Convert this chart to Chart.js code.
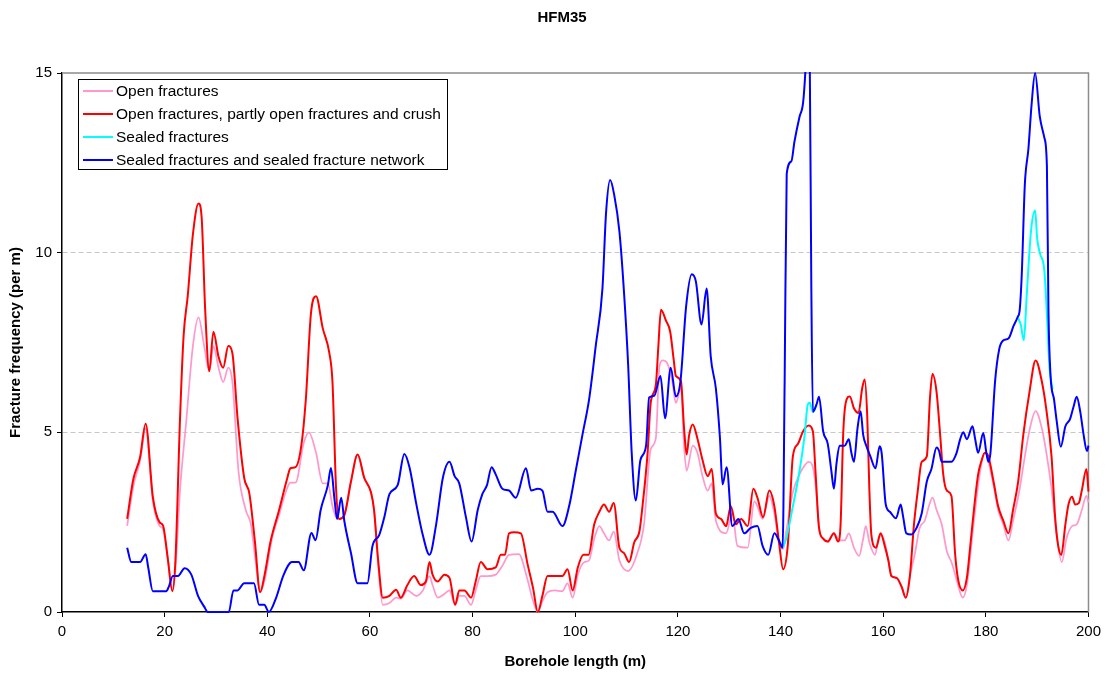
<!DOCTYPE html>
<html>
<head>
<meta charset="utf-8">
<title>HFM35</title>
<script src="https://cdn.jsdelivr.net/npm/chart.js@4.4.1/dist/chart.umd.min.js"></script>
<style>
  html, body { margin: 0; padding: 0; background: #fff; }
  #wrap { width: 1107px; height: 675px; }
</style>
</head>
<body>
<div id="wrap"><canvas id="fracChart" width="1107" height="675"></canvas></div>
<script>
// Values (borehole length in m, frequency per m)
const openX = [12.7, 13.9, 15.2, 16.3, 17.7, 19.0, 19.7, 20.6, 21.5, 22.1, 23.0, 24.2, 25.5, 26.6, 27.7, 28.7, 29.5, 30.5, 31.4, 32.4, 33.2, 34.4, 35.8, 36.8, 37.7, 38.6, 39.5, 41.0, 42.3, 43.5, 44.5, 45.5, 47.1, 48.1, 49.5, 50.8, 51.8, 52.7, 53.4, 54.0, 55.0, 56.3, 57.6, 58.9, 60.2, 60.8, 61.6, 62.5, 63.8, 65.1, 66.0, 67.3, 69.0, 70.3, 71.6, 72.2, 73.2, 74.5, 75.5, 76.6, 77.4, 78.4, 79.7, 80.6, 81.6, 82.9, 84.5, 85.8, 87.1, 89.0, 90.7, 91.7, 92.7, 93.6, 94.6, 96.0, 97.5, 98.5, 99.5, 100.5, 101.8, 102.7, 103.7, 104.7, 105.6, 106.6, 107.5, 108.6, 110.3, 112.1, 113.4, 114.7, 115.7, 116.4, 117.0, 118.0, 118.9, 119.6, 120.6, 121.2, 121.7, 122.9, 123.8, 124.8, 125.8, 126.6, 127.4, 129.4, 130.6, 131.6, 133.6, 134.9, 135.5, 136.5, 137.8, 138.8, 139.7, 140.5, 141.1, 142.4, 143.7, 144.7, 145.5, 146.3, 146.9, 147.5, 148.3, 149.2, 150.4, 151.5, 152.5, 153.3, 154.3, 155.3, 156.1, 156.6, 157.3, 158.4, 159.3, 160.2, 161.0, 161.6, 162.6, 163.6, 164.4, 165.2, 166.2, 167.1, 168.1, 169.0, 169.6, 170.4, 171.4, 172.4, 173.3, 174.3, 175.5, 176.3, 177.6, 178.9, 179.8, 181.5, 182.4, 183.4, 184.4, 185.3, 186.6, 187.6, 188.6, 189.7, 190.9, 191.8, 192.8, 193.8, 194.8, 195.7, 196.8, 197.7, 198.7, 199.6, 200.0];
const openY = [2.4, 3.5, 4.2, 5.1, 3.1, 2.4, 2.3, 1.5, 0.6, 1.2, 3.4, 5.3, 7.4, 8.2, 7.4, 6.7, 7.4, 6.8, 6.4, 6.8, 6.4, 3.9, 2.84, 2.44, 1.44, 0.55, 0.9, 2.1, 2.7, 3.3, 3.6, 3.6, 4.7, 5.0, 4.43, 3.58, 3.58, 2.94, 2.64, 2.59, 2.69, 3.63, 4.38, 3.73, 3.33, 2.84, 1.3, 0.2, 0.25, 0.4, 0.37, 0.6, 0.45, 0.6, 1.0, 0.75, 0.4, 0.5, 0.6, 0.2, 0.45, 0.45, 0.2, 0.6, 1.0, 1.0, 1.04, 1.29, 1.59, 1.61, 0.9, 0.35, 0.0, 0.3, 0.55, 0.6, 0.58, 0.8, 0.4, 1.04, 1.39, 1.44, 2.04, 2.39, 2.19, 1.99, 2.24, 1.44, 1.14, 1.64, 2.44, 4.53, 4.83, 6.82, 7.0, 6.9, 6.42, 5.82, 6.22, 4.63, 3.93, 4.63, 4.43, 3.78, 3.38, 3.58, 2.54, 2.19, 2.74, 1.84, 1.79, 3.08, 2.94, 2.59, 3.23, 2.74, 1.94, 1.75, 2.24, 3.33, 3.83, 4.08, 4.18, 4.03, 3.43, 2.34, 2.04, 1.96, 2.19, 1.99, 1.99, 2.19, 1.79, 1.56, 2.04, 2.39, 1.94, 1.59, 2.14, 1.99, 1.44, 1.0, 0.95, 0.7, 0.4, 1.0, 1.64, 2.34, 2.54, 2.99, 3.18, 2.84, 2.44, 1.69, 1.39, 0.9, 0.4, 0.75, 2.44, 3.93, 4.43, 3.53, 2.84, 2.44, 1.99, 2.54, 3.43, 4.33, 5.12, 5.59, 5.12, 4.43, 3.43, 2.14, 1.39, 2.04, 2.39, 2.44, 2.84, 3.23, 3.05];

const crushX = [12.7, 13.9, 15.2, 16.3, 17.7, 19.0, 19.7, 20.6, 21.5, 22.1, 23.0, 23.7, 24.5, 25.5, 26.6, 27.2, 27.9, 28.7, 29.5, 30.5, 31.4, 32.4, 33.2, 34.2, 35.5, 36.5, 37.6, 38.6, 39.5, 40.6, 42.3, 43.9, 44.5, 45.5, 46.6, 47.5, 48.5, 49.5, 50.8, 52.1, 52.7, 53.4, 54.0, 55.0, 56.3, 57.6, 58.9, 60.2, 60.8, 61.6, 62.5, 63.8, 65.1, 66.0, 67.3, 68.6, 69.9, 70.9, 71.6, 72.2, 73.2, 74.5, 75.5, 76.6, 77.4, 78.4, 79.7, 80.6, 81.6, 82.9, 84.5, 85.5, 86.3, 87.1, 88.1, 89.4, 90.7, 91.8, 92.7, 93.6, 94.6, 96.0, 97.5, 98.5, 99.5, 100.5, 101.6, 102.6, 103.7, 104.7, 105.6, 106.6, 107.5, 108.6, 109.5, 110.5, 111.5, 112.5, 113.1, 114.1, 114.7, 115.7, 116.2, 116.7, 117.7, 118.5, 119.2, 119.6, 120.6, 121.2, 121.7, 122.2, 122.9, 123.8, 124.8, 125.8, 126.6, 127.4, 128.4, 129.4, 130.3, 131.3, 132.3, 133.6, 134.7, 135.5, 136.6, 137.8, 138.8, 139.7, 140.5, 141.4, 142.4, 143.4, 144.4, 145.5, 146.3, 146.8, 147.5, 148.3, 149.2, 150.4, 151.2, 151.7, 152.2, 152.7, 153.5, 154.3, 155.2, 155.9, 156.4, 156.9, 157.3, 157.7, 158.6, 159.5, 160.3, 161.0, 161.6, 162.6, 163.6, 164.4, 165.2, 166.0, 166.7, 167.5, 168.5, 169.1, 169.6, 170.4, 171.1, 171.7, 172.4, 173.3, 174.0, 174.6, 175.5, 176.3, 176.9, 177.6, 178.5, 179.2, 179.8, 180.5, 181.5, 182.4, 183.4, 184.4, 185.3, 186.3, 187.3, 188.5, 189.7, 190.9, 191.8, 192.8, 193.5, 194.1, 194.7, 195.5, 196.1, 196.8, 197.4, 198.1, 198.7, 199.6, 200.0];
const crushY = [2.59, 3.7, 4.3, 5.24, 3.2, 2.5, 2.4, 1.5, 0.58, 1.44, 5.4, 7.7, 8.8, 10.5, 11.37, 11.0, 8.4, 6.7, 7.8, 7.1, 6.8, 7.4, 7.2, 5.4, 3.73, 3.3, 1.94, 0.55, 1.05, 1.94, 2.84, 3.73, 4.0, 4.03, 4.6, 5.9, 8.3, 8.79, 7.9, 7.2, 6.4, 3.43, 2.59, 2.69, 3.63, 4.38, 3.73, 3.33, 2.84, 1.44, 0.4, 0.45, 0.62, 0.4, 0.75, 1.0, 0.75, 0.85, 1.39, 1.04, 0.85, 1.04, 0.95, 0.2, 0.6, 0.6, 0.4, 0.85, 1.39, 1.19, 1.24, 1.59, 1.59, 2.19, 2.22, 2.19, 1.34, 0.65, 0.0, 0.45, 1.0, 1.0, 1.0, 1.19, 0.6, 1.24, 1.59, 1.59, 2.44, 2.79, 2.99, 2.79, 3.03, 1.79, 1.64, 1.39, 1.94, 2.24, 2.94, 4.43, 5.82, 6.32, 7.41, 8.41, 8.1, 7.8, 7.0, 6.57, 6.42, 5.12, 4.38, 4.93, 5.22, 4.83, 4.23, 3.78, 3.98, 2.74, 2.59, 2.39, 2.94, 2.44, 2.59, 2.39, 3.43, 3.18, 2.64, 3.38, 2.94, 1.94, 1.19, 1.84, 4.33, 4.68, 5.03, 5.19, 5.03, 3.93, 2.34, 2.04, 1.96, 2.19, 1.96, 2.44, 4.93, 5.82, 6.0, 5.67, 5.54, 6.22, 6.47, 5.42, 3.43, 2.14, 1.79, 2.19, 1.84, 1.44, 1.0, 0.95, 0.7, 0.4, 1.0, 2.44, 3.33, 4.18, 4.33, 5.92, 6.62, 6.12, 4.93, 3.83, 3.38, 3.23, 1.64, 0.9, 0.6, 0.95, 1.74, 2.74, 3.83, 4.23, 4.43, 4.33, 3.63, 2.94, 2.54, 2.19, 2.84, 3.63, 4.93, 6.12, 7.0, 6.42, 5.62, 4.33, 2.64, 1.84, 1.59, 2.44, 2.99, 3.21, 2.99, 3.03, 3.38, 3.98, 3.35];

// Sealed fractures: only visible where it leaves the blue curve (null = gap)
const sealedX = [140.4, 141.1, 142.4, 143.7, 144.7, 145.3, 145.7, 146.3, 147.0, 150.0, 186.2, 186.8, 187.4, 188.0, 188.8, 189.6, 190.0, 190.5, 191.4, 192.0, 192.4, 193.0];
const sealedY = [1.79, 2.04, 2.94, 3.93, 4.93, 5.77, 5.82, 5.57, 5.77, null, 8.21, 8.0, 7.56, 8.9, 10.6, 11.17, 10.4, 10.0, 9.5, 8.0, 6.8, 6.2];

const networkX = [12.7, 13.5, 15.2, 16.3, 16.8, 17.7, 20.3, 20.8, 21.6, 22.6, 23.9, 25.2, 26.5, 27.7, 28.4, 32.5, 33.4, 34.2, 35.5, 37.4, 38.4, 39.4, 40.3, 41.6, 43.2, 44.8, 46.1, 47.1, 48.6, 49.4, 50.4, 51.8, 52.4, 53.1, 53.6, 54.4, 55.0, 56.3, 57.6, 59.5, 60.5, 61.8, 62.8, 63.8, 65.4, 66.7, 67.7, 69.0, 70.3, 71.6, 72.9, 74.2, 75.5, 76.5, 77.4, 78.7, 79.8, 81.0, 81.9, 82.8, 83.7, 84.5, 85.8, 87.1, 88.4, 90.4, 91.4, 92.7, 93.6, 94.6, 95.6, 97.5, 98.8, 100.1, 101.4, 102.7, 104.0, 105.3, 106.0, 106.8, 107.6, 108.6, 109.5, 110.3, 111.0, 111.8, 112.7, 113.8, 114.4, 115.4, 116.6, 117.5, 118.6, 119.6, 120.5, 121.6, 122.7, 123.5, 124.6, 125.6, 126.4, 127.4, 128.2, 128.7, 129.5, 130.6, 131.8, 132.9, 134.2, 135.5, 136.5, 137.6, 138.8, 139.7, 140.4, 140.8, 141.2, 142.1, 142.7, 143.7, 144.4, 144.9, 145.3, 145.7, 146.0, 146.3, 147.0, 147.5, 148.3, 149.2, 149.9, 150.4, 150.9, 151.5, 152.5, 153.3, 153.8, 154.3, 155.0, 155.6, 156.1, 156.7, 157.5, 158.5, 159.3, 159.7, 160.5, 161.3, 162.5, 163.4, 163.9, 164.5, 165.5, 166.5, 167.5, 168.5, 169.4, 170.4, 170.9, 171.4, 173.3, 174.3, 175.0, 175.6, 176.3, 177.4, 177.9, 178.5, 179.5, 180.1, 180.5, 180.9, 181.8, 182.6, 183.4, 184.4, 185.4, 186.2, 186.6, 187.0, 187.6, 188.3, 188.9, 189.6, 190.5, 191.4, 191.9, 192.2, 192.6, 193.3, 193.8, 194.6, 195.5, 196.4, 197.1, 197.7, 198.4, 199.0, 199.7, 200.0];
const networkY = [1.79, 1.39, 1.39, 1.61, 1.24, 0.58, 0.58, 0.7, 1.0, 1.0, 1.22, 1.04, 0.45, 0.15, 0.0, 0.0, 0.6, 0.6, 0.8, 0.8, 0.2, 0.2, 0.0, 0.35, 1.04, 1.39, 1.39, 1.16, 2.2, 2.0, 2.84, 3.53, 4.01, 3.13, 2.59, 3.18, 2.54, 1.64, 0.8, 0.8, 1.84, 2.14, 2.64, 3.28, 3.53, 4.4, 4.03, 3.03, 2.14, 1.59, 2.44, 3.73, 4.18, 3.78, 3.58, 2.64, 1.96, 2.84, 3.28, 3.53, 4.03, 3.83, 3.43, 3.38, 3.18, 4.0, 3.38, 3.43, 3.38, 2.79, 2.79, 2.39, 2.94, 3.93, 4.93, 5.92, 7.41, 9.0, 11.1, 12.02, 11.6, 10.6, 8.9, 6.9, 4.43, 3.1, 4.23, 4.63, 5.97, 6.02, 6.57, 5.39, 6.8, 6.0, 6.42, 8.5, 9.4, 9.2, 8.0, 9.0, 7.11, 6.22, 4.83, 3.55, 4.03, 2.39, 2.59, 2.19, 2.34, 2.39, 1.84, 1.59, 2.19, 1.99, 1.79, 6.42, 12.19, 12.54, 13.08, 13.78, 14.18, 15.2, 16.5, 15.2, 9.0, 5.57, 5.77, 5.99, 5.03, 4.68, 3.93, 3.43, 4.13, 4.63, 4.63, 4.81, 4.43, 4.18, 5.12, 5.59, 4.93, 4.63, 4.33, 4.0, 4.61, 4.43, 2.99, 2.79, 2.61, 2.99, 2.64, 2.19, 2.16, 2.34, 2.74, 3.63, 3.98, 4.58, 4.48, 4.18, 4.18, 4.43, 4.81, 5.0, 4.81, 5.17, 4.83, 4.43, 4.98, 4.43, 4.18, 4.43, 6.42, 7.31, 7.56, 7.61, 7.96, 8.21, 8.41, 9.4, 11.9, 12.9, 14.1, 15.0, 13.8, 13.2, 12.4, 8.4, 6.6, 5.9, 5.32, 4.6, 5.17, 5.37, 5.72, 5.99, 5.57, 4.98, 4.48, 4.63];

const seriesNames = [
  'Open fractures',
  'Open fractures, partly open fractures and crush',
  'Sealed fractures',
  'Sealed fractures and sealed fracture network'
];
const seriesColors = ['#ff99cc', '#ff0000', '#00ffff', '#0000ff'];
const yTicks = [0, 5, 10, 15];

function toPoints(xs, ys) {
  return xs.map((x, i) => ({ x: x, y: ys[i] }));
}

Chart.defaults.font.family = '"Liberation Sans", Arial, sans-serif';
Chart.defaults.color = '#000';

// Frame: grey top and right edges of the plot area
const plotFrame = {
  id: 'plotFrame',
  beforeDatasetsDraw(chart) {
    const { ctx, chartArea: a } = chart;
    ctx.save();
    ctx.strokeStyle = '#8c8c8c';
    ctx.lineWidth = 1.5;
    ctx.beginPath();
    ctx.moveTo(a.left, a.top);
    ctx.lineTo(a.right, a.top);
    ctx.lineTo(a.right, a.bottom);
    ctx.stroke();
    ctx.restore();
  }
};

// Boxed legend inside the plot, top-left
const boxLegend = {
  id: 'boxLegend',
  afterDatasetsDraw(chart) {
    const ctx = chart.ctx;
    const left = 78.5, top = 79.5, w = 369, h = 90;
    ctx.save();
    ctx.fillStyle = '#fff';
    ctx.fillRect(left, top, w, h);
    ctx.strokeStyle = '#000';
    ctx.lineWidth = 1;
    ctx.strokeRect(left, top, w, h);
    ctx.font = '15.5px "Liberation Sans", Arial, sans-serif';
    ctx.textBaseline = 'middle';
    chart.data.datasets.forEach((ds, i) => {
      const y = 91 + i * 23;
      ctx.strokeStyle = ds.borderColor;
      ctx.lineWidth = 2;
      ctx.beginPath();
      ctx.moveTo(83, y);
      ctx.lineTo(113, y);
      ctx.stroke();
      ctx.fillStyle = '#000';
      ctx.fillText(ds.label, 116, y + 1);
    });
    ctx.restore();
  }
};

// Title sits a bit right of the canvas centre in the original
const shiftTitle = {
  id: 'shiftTitle',
  afterLayout(chart) {
    if (chart.titleBlock) chart.titleBlock.left = 35;
  }
};

const datasets = [
  { x: openX, y: openY, width: 1.75, order: 4 },
  { x: crushX, y: crushY, width: 2, order: 3 },
  { x: sealedX, y: sealedY, width: 2, order: 2 },
  { x: networkX, y: networkY, width: 2, order: 1 }
].map((s, i) => ({
  label: seriesNames[i],
  data: toPoints(s.x, s.y),
  borderColor: seriesColors[i],
  backgroundColor: seriesColors[i],
  borderWidth: s.width,
  pointRadius: 0,
  cubicInterpolationMode: 'monotone',
  spanGaps: false,
  fill: false,
  clip: { left: 2, top: 1, right: 2, bottom: 4 },
  order: s.order
}));

new Chart(document.getElementById('fracChart'), {
  type: 'line',
  data: { datasets: datasets },
  plugins: [plotFrame, boxLegend, shiftTitle],
  options: {
    responsive: false,
    animation: false,
    devicePixelRatio: 1,
    layout: { padding: { left: 0, right: 18, top: 0, bottom: 0 } },
    plugins: {
      legend: { display: false },
      tooltip: { enabled: false },
      title: {
        display: true,
        text: 'HFM35',
        font: { size: 15, weight: 'bold' },
        padding: { top: 9, bottom: 46 }
      }
    },
    scales: {
      x: {
        type: 'linear',
        min: 0,
        max: 200,
        ticks: { stepSize: 20, font: { size: 15 }, padding: 6, maxRotation: 0 },
        grid: { drawOnChartArea: false, tickLength: 5, tickColor: '#000', z: -2 },
        border: { color: '#000', width: 1.5, z: -1 },
        title: {
          display: true,
          text: 'Borehole length (m)',
          font: { size: 15, weight: 'bold' },
          padding: { top: 0, bottom: 4 }
        },
        afterFit(scale) { scale.height = 63; }
      },
      y: {
        min: 0,
        max: 15,
        afterBuildTicks(scale) { scale.ticks = yTicks.map(v => ({ value: v })); },
        ticks: { font: { size: 15 }, padding: 5 },
        grid: {
          color: ctx => (ctx.tick && (ctx.tick.value === 0 || ctx.tick.value === 15)) ? 'rgba(0,0,0,0)' : '#c8c8c8',
          tickLength: 5,
          tickColor: '#000',
          z: -2
        },
        border: { color: '#000', width: 1.5, dash: [5, 3], z: -1 },
        title: {
          display: true,
          text: 'Fracture frequency (per m)',
          font: { size: 15, weight: 'bold' },
          padding: { top: 7, bottom: 0 }
        },
        afterFit(scale) { scale.width = 62; }
      }
    }
  }
});
</script>
</body>
</html>
